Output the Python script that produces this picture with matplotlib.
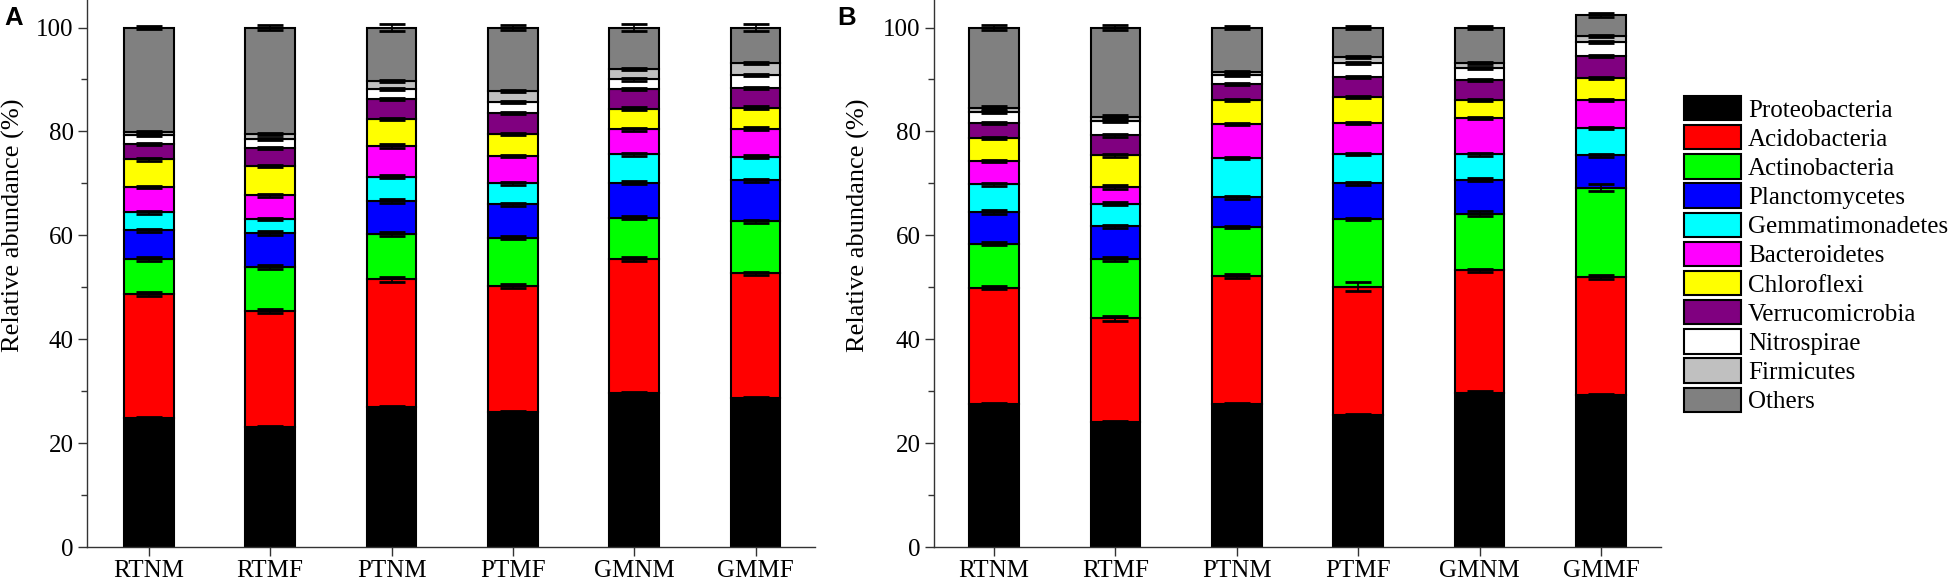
import matplotlib
matplotlib.use("Agg")
import matplotlib.pyplot as plt
from matplotlib.patches import Patch
import numpy as np

# ---------------- data ----------------
samples = ["RTNM", "RTMF", "PTNM", "PTMF", "GMNM", "GMMF"]
phyla = ["Proteobacteria", "Acidobacteria", "Actinobacteria", "Planctomycetes",
         "Gemmatimonadetes", "Bacteroidetes", "Chloroflexi", "Verrucomicrobia",
         "Nitrospirae", "Firmicutes", "Others"]
colors = ["#000000", "#FF0000", "#00FF00", "#0000FF", "#00FFFF", "#FF00FF",
          "#FFFF00", "#800080", "#FFFFFF", "#C0C0C0", "#808080"]

# Panel A: relative abundance (%) per phylum (rows) and sample (columns)
values_A = [
    [24.8, 23.1, 26.9, 25.9, 29.7, 28.7],   # Proteobacteria
    [23.9, 22.3, 24.6, 24.4, 25.7, 24.0],   # Acidobacteria
    [6.8, 8.5, 8.8, 9.2, 8.0, 10.0],        # Actinobacteria
    [5.5, 6.5, 6.3, 6.5, 6.7, 7.9],         # Planctomycetes
    [3.4, 2.8, 4.7, 4.0, 5.5, 4.5],         # Gemmatimonadetes
    [4.9, 4.5, 5.9, 5.2, 4.8, 5.4],         # Bacteroidetes
    [5.3, 5.7, 5.2, 4.3, 4.0, 4.1],         # Chloroflexi
    [3.0, 3.4, 3.8, 4.0, 3.7, 3.7],         # Verrucomicrobia
    [1.7, 1.7, 1.9, 2.2, 1.9, 2.6],         # Nitrospirae
    [0.5, 1.0, 1.6, 2.0, 2.0, 2.2],         # Firmicutes
    [20.2, 20.5, 10.3, 12.3, 8.0, 6.9],     # Others
]
errors_A = [
    [0.2, 0.2, 0.2, 0.2, 0.2, 0.2],
    [0.3, 0.4, 0.5, 0.4, 0.4, 0.3],
    [0.4, 0.3, 0.4, 0.3, 0.3, 0.3],
    [0.3, 0.4, 0.3, 0.3, 0.3, 0.3],
    [0.3, 0.2, 0.3, 0.3, 0.3, 0.3],
    [0.2, 0.3, 0.3, 0.2, 0.3, 0.3],
    [0.2, 0.2, 0.2, 0.2, 0.3, 0.2],
    [0.2, 0.2, 0.2, 0.2, 0.2, 0.2],
    [0.2, 0.2, 0.2, 0.2, 0.2, 0.2],
    [0.2, 0.2, 0.2, 0.2, 0.2, 0.2],
    [0.2, 0.4, 0.65, 0.4, 0.75, 0.75],
]

# Panel B
values_B = [
    [27.5, 24.1, 27.6, 25.4, 29.6, 29.2],   # Proteobacteria
    [22.4, 19.9, 24.6, 24.7, 23.7, 22.7],   # Acidobacteria
    [8.5, 11.5, 9.4, 13.1, 10.9, 17.3],     # Actinobacteria
    [6.1, 6.2, 5.7, 6.8, 6.5, 6.2],         # Planctomycetes
    [5.3, 4.4, 7.6, 5.6, 4.9, 5.2],         # Gemmatimonadetes
    [4.5, 3.2, 6.5, 6.1, 6.9, 5.4],         # Bacteroidetes
    [4.5, 6.1, 4.6, 5.0, 3.5, 4.2],         # Chloroflexi
    [2.9, 3.9, 3.1, 3.8, 3.9, 4.3],         # Verrucomicrobia
    [2.1, 2.8, 1.8, 2.7, 2.3, 2.8],         # Nitrospirae
    [0.8, 0.7, 0.6, 1.1, 0.9, 1.1],         # Firmicutes
    [15.4, 17.2, 8.5, 5.7, 6.9, 4.0],       # Others
]
errors_B = [
    [0.2, 0.2, 0.2, 0.2, 0.5, 0.2],
    [0.3, 0.5, 0.4, 0.9, 0.3, 0.4],
    [0.3, 0.4, 0.2, 0.2, 0.4, 0.7],
    [0.3, 0.3, 0.3, 0.3, 0.3, 0.3],
    [0.3, 0.3, 0.2, 0.2, 0.3, 0.2],
    [0.2, 0.3, 0.2, 0.2, 0.2, 0.2],
    [0.2, 0.3, 0.2, 0.2, 0.2, 0.2],
    [0.2, 0.3, 0.2, 0.2, 0.2, 0.2],
    [0.2, 0.3, 0.2, 0.2, 0.2, 0.2],
    [0.2, 0.3, 0.2, 0.2, 0.2, 0.2],
    [0.5, 0.5, 0.3, 0.3, 0.3, 0.4],
]

# ---------------- style ----------------
SERIF = ["Liberation Serif", "DejaVu Serif"]
FS = 18
plt.rcParams["font.family"] = SERIF

W, H = 1956, 587
fig = plt.figure(figsize=(W / 100, H / 100), dpi=100)

axA = fig.add_axes([87 / W, 40 / H, (815 - 87) / W, 547 / H])
axB = fig.add_axes([934 / W, 40 / H, (1661 - 934) / W, 547 / H])


def draw(ax, values, errors, xlim):
    x = np.arange(len(samples))
    bottom = np.zeros(len(samples))
    for vals, errs, col in zip(values, errors, colors):
        vals = np.array(vals)
        ax.bar(x, vals, width=0.41, bottom=bottom, color=col,
               edgecolor="black", linewidth=1.5, zorder=2)
        top = bottom + vals
        ax.errorbar(x, top, yerr=errs, fmt="none", ecolor="black",
                    elinewidth=1.2, capsize=9.5, capthick=2.0, zorder=3)
        bottom = top
    ax.set_xlim(*xlim)
    ax.set_ylim(0, 105.3)
    ax.set_xticks(x)
    ax.set_xticklabels(samples, fontsize=FS)
    ax.set_yticks([0, 20, 40, 60, 80, 100])
    ax.set_yticks([10, 30, 50, 70, 90], minor=True)
    ax.tick_params(axis="y", labelsize=FS)
    ax.tick_params(axis="both", which="major", direction="out", length=6.5,
                   width=1, color="#333333", pad=3)
    ax.tick_params(axis="y", which="minor", direction="out", length=4,
                   width=1, color="#333333")
    for s in ("top", "right"):
        ax.spines[s].set_visible(False)
    for s in ("left", "bottom"):
        ax.spines[s].set_linewidth(1.0)
        ax.spines[s].set_color("#333333")
    ax.set_ylabel("Relative abundance (%)", fontsize=19)


draw(axA, values_A, errors_A, (-0.51, 5.49))
draw(axB, values_B, errors_B, (-0.495, 5.495))
axA.yaxis.set_label_coords(-0.085, 0.589)
axB.yaxis.set_label_coords(-0.088, 0.589)

fig.text(4 / W, 1 - 6 / H, "A", fontsize=18.5, fontweight="bold",
         family=["Liberation Sans", "DejaVu Sans"], va="top", ha="left")
fig.text(837 / W, 1 - 6 / H, "B", fontsize=18.5, fontweight="bold",
         family=["Liberation Sans", "DejaVu Sans"], va="top", ha="left")

handles = [Patch(facecolor=c, edgecolor="black", linewidth=1.5) for c in colors]
fig.legend(handles, phyla, loc="upper left",
           bbox_to_anchor=(1684 / W, 1 - 96 / H), frameon=False,
           fontsize=FS, handlelength=2.28, handleheight=1.12,
           labelspacing=0.14, handletextpad=0.28, borderpad=0,
           borderaxespad=0)

fig.savefig("out.png", dpi=100)
